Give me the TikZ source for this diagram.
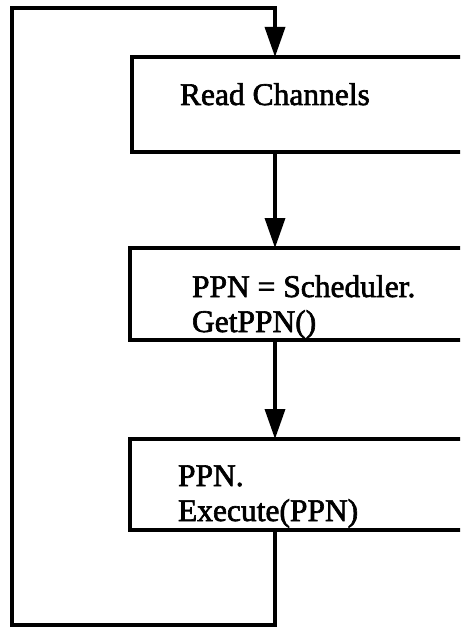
\documentclass[tikz,border=0pt]{standalone}
\usepackage{fontspec}
\setmainfont{Liberation Serif}
\newfontfamily\boxfont{Liberation Serif}[FakeBold=2]
\usetikzlibrary{arrows.meta}
\tikzset{
  stepbox/.style={draw, line width=3.5pt, rectangle, inner sep=0pt, outer sep=0pt,
    minimum width=345pt, anchor=north west},
  boxtext/.style={inner sep=0pt, outer sep=0pt, align=left, anchor=base west,
    font=\boxfont\fontsize{31.5}{35}\selectfont},
  flow/.style={line width=3.5pt, line join=miter,
    -{Triangle[width=20pt,length=30pt]}}
}
\begin{document}
\begin{tikzpicture}[x=1pt,y=-1pt]
\useasboundingbox (0,0) rectangle (460,628);
\clip (0,0) rectangle (460,628);
\fill[white] (0,0) rectangle (460,628);

% the three processing steps (they run off the right edge)
\node[stepbox, minimum height=95pt] (read)  at (132,57)  {};
\node[stepbox, minimum height=92pt] (sched) at (130,248) {};
\node[stepbox, minimum height=91pt] (exec)  at (130,439) {};

% text anchors sit on the baseline of the last line
\node[boxtext] (readtxt)  at (180,105) {Read Channels};
\node[boxtext] (schedtxt) at (192,332) {PPN = Scheduler.\\GetPPN()};
\node[boxtext] (exectxt)  at (178,521) {PPN.\\Execute(PPN)};

% control flow
\coordinate (ax) at (275,0);
\coordinate (lb) at (12,625);
\coordinate (lt) at (12,8);
\draw[flow] (read.south -| ax) -- (sched.north -| ax);
\draw[flow] (sched.south -| ax) -- (exec.north -| ax);
\draw[flow] (exec.south -| ax) |- (lb) -- (lt) -| (read.north -| ax);
\end{tikzpicture}
\end{document}
